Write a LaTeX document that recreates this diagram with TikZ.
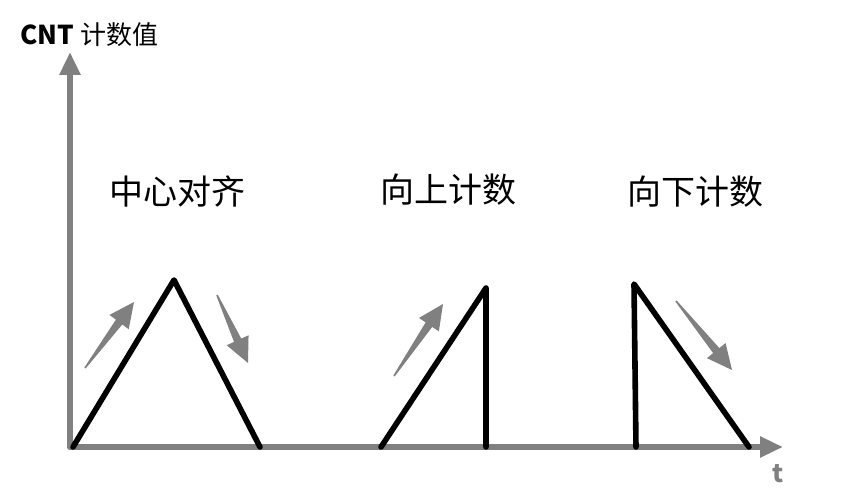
\documentclass[tikz,border=0pt]{standalone}
\usepackage{fontspec}
\setmainfont{Noto Sans CJK SC}
\usetikzlibrary{arrows.meta,calc}
\definecolor{axisgray}{RGB}{128,128,128}
% tapered block arrow from #1 to #2
\newcommand\trendarrow[2]{%
  \fill[axisgray] ($(#1)!0.4pt!90:(#2)$) -- ($(#2)!12.5pt!(#1)!2pt!-90:(#1)$)
    -- ($(#2)!12.5pt!(#1)!6pt!-90:(#1)$) -- (#2)
    -- ($(#2)!12.5pt!(#1)!6pt!90:(#1)$) -- ($(#2)!12.5pt!(#1)!2pt!90:(#1)$)
    -- ($(#1)!0.4pt!-90:(#2)$) -- cycle;}

\begin{document}
\begin{tikzpicture}[x=0.5pt,y=-0.5pt,
    axis/.style={draw=axisgray,line width=2.8pt,line cap=round,-{Triangle[width=10pt,length=11.5pt]}},
    wave/.style={draw=black,line width=2.8pt,line cap=round,line join=round},
    title/.style={font=\fontsize{17pt}{20pt}\selectfont,inner sep=0pt}]
  \useasboundingbox (0,0) rectangle (852,502);

  % axes
  \coordinate (origin) at (70,447);
  \coordinate (ytip) at (70,52);
  \coordinate (xtip) at (783,447);
  \draw[axis] (origin) -- (ytip);
  \draw[axis] (origin) -- (xtip);
  \node[anchor=west,inner sep=0pt,font=\fontsize{13pt}{15pt}\selectfont] (ylabel) at (20,35) {\textbf{CNT} 计数值};
  \node[inner sep=0pt,text=axisgray,font=\fontsize{12.5pt}{15pt}\selectfont\bfseries] (xlabel) at (778,474) {t};

  % center aligned
  \coordinate (a1) at (73,447);
  \coordinate (a2) at (174,280);
  \coordinate (a3) at (260,447);
  \draw[wave] (a1) -- (a2) -- (a3);
  \node[title] (center) at (177,192) {中心对齐};
  \coordinate (ua1) at (85,368);  \coordinate (ua2) at (134,302);
  \coordinate (da1) at (217,295); \coordinate (da2) at (248,363);
  \trendarrow{ua1}{ua2}
  \trendarrow{da1}{da2}

  % up counting
  \coordinate (b1) at (381,447);
  \coordinate (b2) at (486,288);
  \coordinate (b3) at (486,447);
  \draw[wave] (b1) -- (b2) -- (b3);
  \node[title] (up) at (448,190) {向上计数};
  \coordinate (ub1) at (394,376); \coordinate (ub2) at (443,304);
  \trendarrow{ub1}{ub2}

  % down counting
  \coordinate (c1) at (636,447);
  \coordinate (c2) at (634,284);
  \coordinate (c3) at (749,447);
  \draw[wave] (c1) -- (c2) -- (c3);
  \node[title] (down) at (695,192) {向下计数};
  \coordinate (dc1) at (676,301); \coordinate (dc2) at (732,370);
  \trendarrow{dc1}{dc2}
\end{tikzpicture}
\end{document}
